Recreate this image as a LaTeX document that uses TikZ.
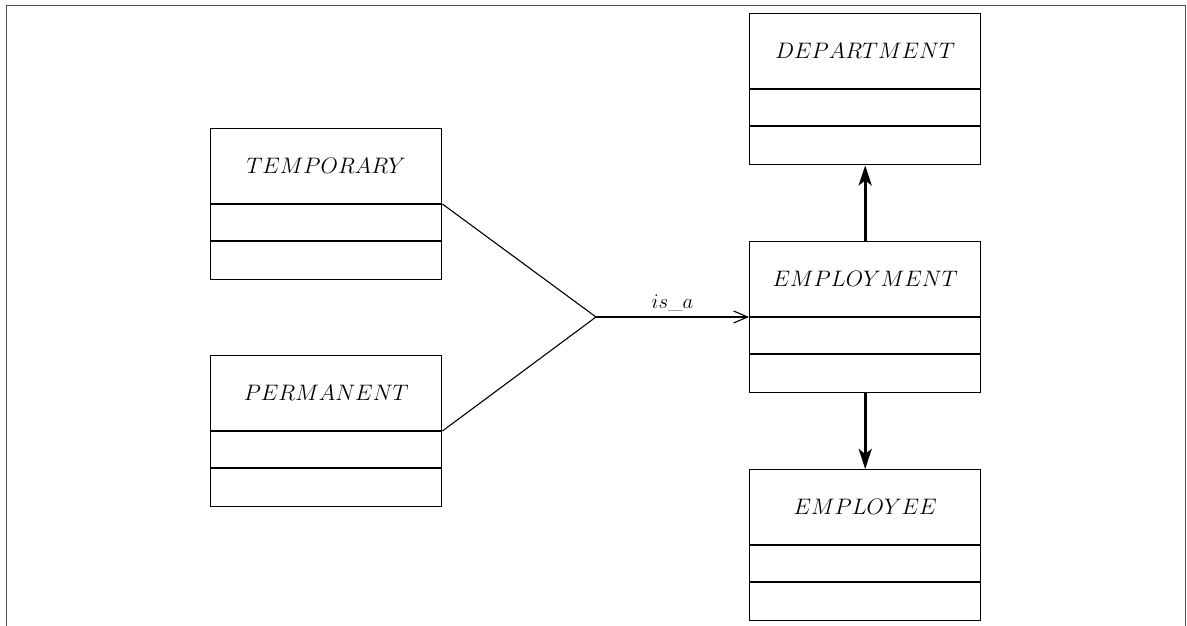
\documentclass[tikz,border=0pt]{standalone}
\usetikzlibrary{arrows.meta,calc}

\tikzset{
  cls/.style={draw, line width=1.4pt, minimum width=231pt, minimum height=151pt,
              anchor=north west, inner sep=0pt},
  clsname/.style={inner sep=0pt, scale=1.08, font=\fontsize{20.74}{25}\selectfont},
  isalabel/.style={above, inner sep=5pt, font=\fontsize{20.74}{25}\selectfont},
  divider/.style={line width=1.4pt},
  spec/.style={line width=1.1pt},
  isa/.style={line width=1.1pt, -{Straight Barb[length=14pt,width=12pt,line width=1.1pt]}},
  assoc/.style={line width=3pt, -{Stealth[length=20pt,width=13pt,inset=5pt]}},
  frame/.style={line width=0.8pt, draw=black!70},
}

% a class box: name, top-left x, top-left y, title
\newcommand{\classbox}[4]{%
  \node[cls] (#1) at (#2,#3) {};
  \node[clsname] (#1-title) at ($(#1.north)+(0,38)$) {$#4$};
  \coordinate (#1-d1w) at ($(#1.north west)+(0,76)$);
  \coordinate (#1-d1e) at ($(#1.north east)+(0,76)$);
  \coordinate (#1-d2w) at ($(#1.north west)+(0,113)$);
  \coordinate (#1-d2e) at ($(#1.north east)+(0,113)$);
  \draw[divider] (#1-d1w) -- (#1-d1e);
  \draw[divider] (#1-d2w) -- (#1-d2e);
}

\begin{document}
\begin{tikzpicture}[x=1pt,y=-1pt]
  \useasboundingbox (0,0) rectangle (1187,626);
  % outer frame
  \draw[frame] (6,640) -- (6,5) -- (1185,5) -- (1185,640);

  \classbox{temp}{210}{128}{TEMPORARY}
  \classbox{perm}{210}{355}{PERMANENT}
  \classbox{dept}{749}{13}{DEPARTMENT}
  \classbox{empl}{749}{241}{EMPLOYMENT}
  \classbox{emp}{749}{469}{EMPLOYEE}

  % specialisation
  \coordinate (join) at (596,317);
  \draw[spec] (temp-d1e) -- (join);
  \draw[spec] (perm-d1e) -- (join);
  \draw[isa] (join) -- node[isalabel] (isa-label) {$is\_a$} (empl-d1w);

  % associations
  \draw[assoc] (empl.north) -- (dept.south);
  \draw[assoc] (empl.south) -- (emp.north);
\end{tikzpicture}
\end{document}
